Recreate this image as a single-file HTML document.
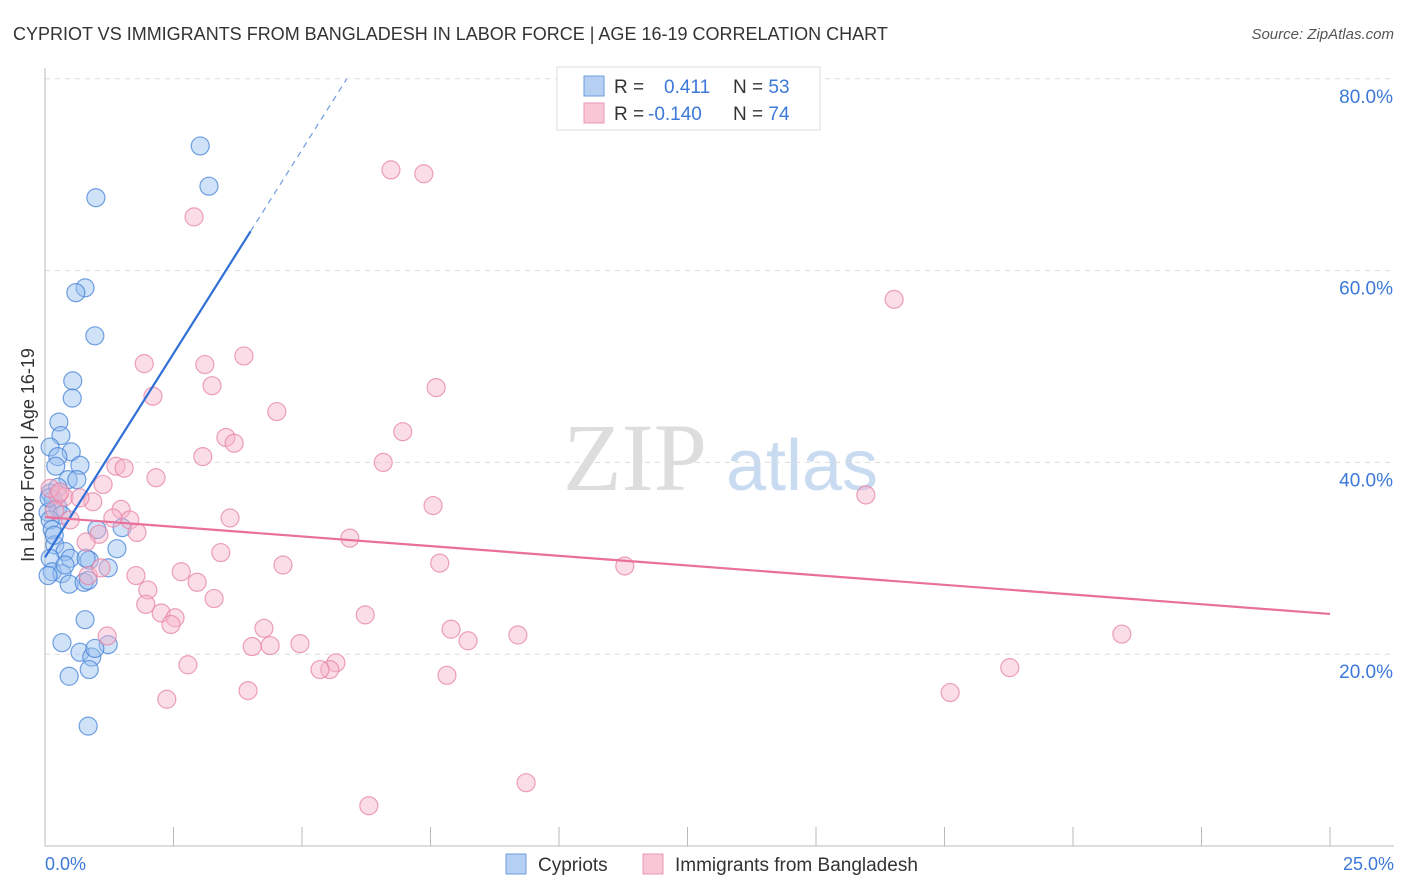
<!DOCTYPE html>
<html><head><meta charset="utf-8"><style>
body{margin:0;background:#fff;font-family:"Liberation Sans",sans-serif}
svg{display:block}
</style></head><body>
<svg id="chart" width="1406" height="892" xmlns="http://www.w3.org/2000/svg">
<text x="13" y="40" font-size="18" fill="#333">CYPRIOT VS IMMIGRANTS FROM BANGLADESH IN LABOR FORCE | AGE 16-19 CORRELATION CHART</text>
<text x="1394" y="39" font-size="15" fill="#555" font-style="italic" text-anchor="end">Source: ZipAtlas.com</text>
<text x="635" y="490" font-size="96" fill="#ddd" font-family="Liberation Serif,serif" text-anchor="middle">ZIP</text>
<text x="802" y="490" font-size="72" fill="#c9dbf1" text-anchor="middle">atlas</text>
<g id="grid"></g><g id="marks"></g>
<text transform="translate(34,455) rotate(-90)" font-size="18" fill="#333" text-anchor="middle">In Labor Force | Age 16-19</text>
<text x="45" y="870" font-size="18" fill="#3b78d8">0.0%</text>
<text x="1394" y="870" font-size="18" fill="#3b78d8" text-anchor="end">25.0%</text>
<g>
<rect x="557" y="67" width="263" height="63" fill="#fff" stroke="#ddd"/>
<rect x="584" y="76" width="20" height="20" fill="#b5d0f3" stroke="#6e9be0"/>
<rect x="584" y="103" width="20" height="20" fill="#f9c6d6" stroke="#eb98b3"/>
<text x="614" y="93" font-size="19" fill="#333">R = <tspan fill="#3b78d8" x="664">0.411</tspan><tspan x="733">N = </tspan><tspan fill="#3b78d8">53</tspan></text>
<text x="614" y="120" font-size="19" fill="#333">R = <tspan fill="#3b78d8" x="648">-0.140</tspan><tspan x="733">N = </tspan><tspan fill="#3b78d8">74</tspan></text>
</g>
<g>
<rect x="506" y="854" width="20" height="20" fill="#b5d0f3" stroke="#6e9be0"/>
<text x="538" y="871" font-size="19" fill="#333">Cypriots</text>
<rect x="643" y="854" width="20" height="20" fill="#f9c6d6" stroke="#eb98b3"/>
<text x="675" y="871" font-size="19" fill="#333">Immigrants from Bangladesh</text>
</g>
</svg>
<script>
const yTicks=[20,40,60,80];
const yTickLabels=["20.0%","40.0%","60.0%","80.0%"];
const xTicks=[0,2.5,5,7.5,10,12.5,15,17.5,20,22.5,25];
const blueX=[3.02,3.19,0.99,0.78,0.60,0.97,0.54,0.53,0.27,0.31,0.10,0.51,0.25,0.21,0.68,0.45,0.62,0.10,0.16,0.25,0.06,0.33,0.10,0.14,1.01,1.50,0.19,1.40,0.39,0.10,0.49,0.86,0.80,1.23,0.14,0.33,0.06,0.47,0.76,0.84,0.33,0.68,0.91,1.23,0.97,0.86,0.47,0.84,0.78,0.25,0.08,0.18,0.39];
const blueY=[73.0,68.8,67.6,58.2,57.7,53.2,48.5,46.7,44.2,42.8,41.6,41.1,40.6,39.6,39.7,38.2,38.2,36.8,36.1,35.3,34.8,34.5,34.0,33.0,33.0,33.2,31.4,31.0,30.7,30.0,30.0,29.8,30.0,29.0,28.6,28.4,28.2,27.3,27.5,27.7,21.2,20.2,19.7,21.0,20.6,18.4,17.7,12.5,23.6,37.4,36.3,32.4,29.3];
const pinkX=[6.73,7.37,2.90,16.52,3.87,1.93,3.11,3.25,7.61,2.10,4.51,6.96,3.52,3.68,3.07,6.58,1.38,1.54,2.16,1.13,15.97,0.37,0.93,7.55,1.48,1.65,3.60,0.49,1.32,0.25,1.79,1.05,5.93,0.80,3.42,4.63,7.68,11.28,1.77,0.84,2.65,2.96,2.00,3.29,2.26,2.53,2.45,6.23,4.26,7.90,1.21,9.20,20.95,8.23,4.03,4.38,4.96,2.78,5.66,5.54,5.35,18.77,7.82,3.95,2.37,17.61,9.36,6.30,0.10,0.29,0.68,1.09,1.96,0.19];
const pinkY=[70.5,70.1,65.6,57.0,51.1,50.3,50.2,48.0,47.8,46.9,45.3,43.2,42.6,42.0,40.6,40.0,39.6,39.4,38.4,37.7,36.6,36.4,35.9,35.5,35.1,34.0,34.2,34.0,34.2,36.6,32.7,32.5,32.1,31.7,30.6,29.3,29.5,29.2,28.2,28.2,28.6,27.5,26.7,25.8,24.3,23.8,23.1,24.1,22.7,22.6,21.9,22.0,22.1,21.4,20.8,20.9,21.1,18.9,19.1,18.4,18.4,18.6,17.8,16.2,15.3,16.0,6.6,4.2,37.3,36.9,36.3,29.0,25.2,35.0];
const blueTrend=[30.1,8.5]; // intercept, slope
const pinkTrend=[34.3,24.2]; // y at x=0, y at x=25
const NS="http://www.w3.org/2000/svg";
const sx=v=>45+v*51.4, sy=v=>846-v*9.59;
function mk(tag,attrs,parent){const e=document.createElementNS(NS,tag);for(const k in attrs)e.setAttribute(k,attrs[k]);parent.appendChild(e);return e;}
const grid=document.getElementById('grid'), marks=document.getElementById('marks');
yTicks.forEach((t,i)=>{
 const l=mk('line',{x1:45,x2:1394,y1:sy(t),y2:sy(t),stroke:'#ddd','stroke-dasharray':'5,5'},grid);
 
 
 const tx=mk('text',{x:1393,y:sy(t)+24,'font-size':19,fill:'#3b78d8','text-anchor':'end'},grid);
 tx.textContent=yTickLabels[i];
 
 
});
const ax=mk('line',{x1:45,x2:45,y1:68,y2:846,stroke:'#bbb'},grid);


const bx=mk('line',{x1:45,x2:1394,y1:846,y2:846,stroke:'#bbb'},grid);


xTicks.forEach(t=>{
 const l=mk('line',{x1:sx(t),x2:sx(t),y1:827,y2:846,stroke:'#bbb'},grid);
 
 
});
blueX.forEach((x,i)=>{
 const c=mk('circle',{cx:sx(x),cy:sy(blueY[i]),r:9,fill:'rgba(150,190,240,0.45)',stroke:'rgba(70,130,215,0.75)','stroke-width':1.2},marks);
 
 
});
pinkX.forEach((x,i)=>{
 const c=mk('circle',{cx:sx(x),cy:sy(pinkY[i]),r:9,fill:'rgba(246,180,202,0.45)',stroke:'rgba(230,130,165,0.75)','stroke-width':1.2},marks);
 
 
});
const bEnd=4.0, bDashEnd=(80-blueTrend[0])/blueTrend[1];
const bl=mk('line',{x1:sx(0),y1:sy(blueTrend[0]),x2:sx(bEnd),y2:sy(blueTrend[0]+blueTrend[1]*bEnd),stroke:'#2f6fd6','stroke-width':2.2},marks);


const bd=mk('line',{x1:sx(bEnd),y1:sy(blueTrend[0]+blueTrend[1]*bEnd),x2:sx(bDashEnd),y2:sy(80),stroke:'#6e9be0','stroke-width':1.2,'stroke-dasharray':'6,5'},marks);


const pl=mk('line',{x1:sx(0),y1:sy(pinkTrend[0]),x2:sx(25),y2:sy(pinkTrend[1]),stroke:'#e8709a','stroke-width':2.2},marks);


</script>
</body></html>
